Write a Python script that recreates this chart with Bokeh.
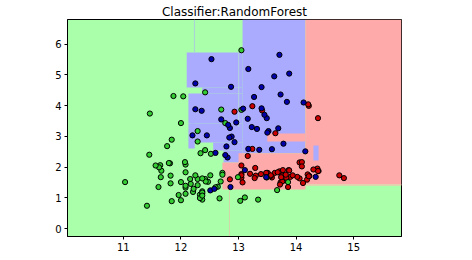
from bokeh.plotting import figure
from bokeh.models import Range1d, FixedTicker
from bokeh.embed import file_html
from bokeh.resources import INLINE

# Wine dataset: alcohol (x) and malic acid (y)
alc0 = [14.23,13.2,13.16,14.37,13.24,14.2,14.39,14.06,14.83,13.86,14.1,14.12,13.75,14.75,14.38,13.63,14.3,13.83,14.19,13.64,
        14.06,12.93,13.71,12.85,13.5,13.05,13.39,13.3,13.87,14.02,13.73,13.58,13.68,13.76,13.51,13.48,13.28,13.05,13.07,14.22,
        13.56,13.41,13.88,13.24,13.05,14.21,14.38,13.9,14.1,13.94,13.05,13.83,13.82,13.77,13.74,13.56,14.22,13.29,13.72]
mal0 = [1.71,1.78,2.36,1.95,2.59,1.76,1.87,2.15,1.64,1.35,2.16,1.48,1.73,1.73,1.87,1.81,1.92,1.57,1.59,3.1,
        1.63,3.8,1.86,1.6,1.81,2.05,1.77,1.72,1.9,1.68,1.5,1.66,1.83,1.53,1.8,1.81,1.64,1.65,1.5,3.99,
        1.71,3.84,1.89,3.98,1.77,4.04,3.59,1.68,2.02,1.73,1.73,1.65,1.75,1.9,1.67,1.73,1.7,1.97,1.43]
alc1 = [12.37,12.33,12.64,13.67,12.37,12.17,12.37,13.11,12.37,13.34,12.21,12.29,13.86,13.49,12.99,11.96,11.66,13.03,11.84,12.33,
        12.7,12.0,12.72,12.08,13.05,11.84,12.67,12.16,11.65,11.64,12.08,12.08,12.0,12.69,12.29,11.62,12.47,11.81,12.29,12.37,
        12.29,12.08,12.6,12.34,11.82,12.51,12.42,12.25,12.72,12.22,11.61,11.46,12.52,11.76,11.41,12.08,11.03,11.82,12.42,12.77,
        12.0,11.45,11.56,12.42,13.05,11.87,12.07,12.43,11.79,12.37,12.04]
mal1 = [0.94,1.1,1.36,1.25,1.13,1.45,1.21,1.01,1.17,0.94,1.19,1.61,1.51,1.66,1.67,1.09,1.88,0.9,2.89,0.99,
        3.87,0.92,1.81,1.13,3.86,0.89,0.98,1.61,1.67,2.06,1.33,1.83,1.51,1.53,2.83,1.99,1.52,2.12,1.41,1.07,
        3.17,2.08,1.34,2.45,1.72,1.73,2.55,1.73,1.75,1.29,1.35,3.74,2.43,2.68,0.74,1.39,1.51,1.47,1.61,3.43,
        3.43,2.4,2.05,4.43,5.8,4.31,2.16,1.53,2.13,1.63,4.3]
alc2 = [12.86,12.88,12.81,12.7,12.51,12.6,12.25,12.53,13.49,12.84,12.93,13.36,13.52,13.62,12.25,13.16,13.88,12.87,13.32,13.08,
        13.5,12.79,13.11,13.23,12.58,13.17,13.84,12.45,14.34,13.48,12.36,13.69,12.85,12.96,13.78,13.73,13.45,12.82,13.58,13.4,
        12.2,12.77,14.16,13.71,13.4,13.27,13.17,14.13]
mal2 = [1.35,2.99,2.31,3.55,1.24,2.46,4.72,5.51,3.59,2.96,2.81,2.56,3.17,4.95,3.88,3.57,5.04,4.61,3.24,3.9,
        3.12,2.67,1.9,3.3,1.29,5.19,4.12,3.03,1.68,1.67,3.83,3.26,3.27,3.45,2.76,4.36,3.7,3.37,2.58,4.6,
        3.03,2.39,2.51,5.65,3.91,4.28,2.59,4.1]

# Decision regions (left, right, bottom, top, class)
reg_left   = [12.10, 12.37, 12.13, 12.17, 12.13, 12.56, 12.74, 13.07, 14.16, 12.72, 13.00, 13.50, 14.30]
reg_right  = [13.07, 13.07, 13.07, 13.07, 12.24, 13.07, 13.07, 14.16, 15.83, 14.16, 14.16, 14.16, 14.39]
reg_bottom = [4.59, 4.39, 3.42, 2.80, 2.60, 2.54, 2.15, 2.45, 1.40, 1.27, 1.30, 2.83, 2.21]
reg_top    = [5.73, 4.59, 4.39, 3.42, 3.42, 2.80, 2.54, 6.80, 6.80, 2.15, 2.45, 3.09, 2.70]
reg_class  = [2, 2, 2, 2, 2, 2, 2, 2, 0, 0, 0, 0, 2]

# thin artefact strips (left, right, bottom, top, colour)
strip_left   = [12.225, 12.995, 12.835, 14.16]
strip_right  = [12.245, 13.012, 12.852, 15.83]
strip_bottom = [5.73, 3.30, -0.26, 1.40]
strip_top    = [6.80, 5.73, 1.24, 1.44]
strip_color  = ["#AAD4D4", "#B4D8D8", "#D4D4AA", "#E0D8B0"]

light = {0: "#FFAAAA", 1: "#AAFFAA", 2: "#AAAAFF"}
bold = {0: "#CC0000", 1: "#33CC33", 2: "#0000AA"}

p = figure(width=472, height=260, output_backend="svg", toolbar_location=None,
           x_range=Range1d(10.03, 15.83), y_range=Range1d(-0.26, 6.80),
           title="Classifier:RandomForest")
p.min_border_left = 67
p.min_border_right = 71
p.min_border_top = 19
p.min_border_bottom = 24
p.background_fill_color = light[1]
p.border_fill_color = "white"
p.outline_line_color = "black"
p.outline_line_width = 1
p.grid.visible = False

p.title.text_font = "DejaVu Sans"
p.title.text_font_size = "12px"
p.title.text_font_style = "normal"
p.title.text_color = "black"
p.title.align = "center"
p.title.offset = 0
p.title.standoff = 2

p.quad(left=reg_left, right=reg_right, bottom=reg_bottom, top=reg_top,
       fill_color=[light[c] for c in reg_class], line_color=None)
p.quad(left=strip_left, right=strip_right, bottom=strip_bottom, top=strip_top,
       fill_color=strip_color, line_color=None)

for xs, ys, c in [(alc0, mal0, 0), (alc1, mal1, 1), (alc2, mal2, 2)]:
    p.scatter(xs, ys, size=5.2, fill_color=bold[c], line_color="black", line_width=1)

p.xaxis.ticker = FixedTicker(ticks=[11, 12, 13, 14, 15])
p.yaxis.ticker = FixedTicker(ticks=[0, 1, 2, 3, 4, 5, 6])
for ax in (p.xaxis, p.yaxis):
    ax.minor_tick_line_color = None
    ax.major_tick_in = 0
    ax.major_tick_out = 3
    ax.major_label_text_font = "DejaVu Sans"
    ax.major_label_text_font_size = "10px"
    ax.major_label_text_color = "black"
    ax.axis_line_color = "black"
    ax.major_label_standoff = 3

open("out.html", "w").write(file_html(p, INLINE))
